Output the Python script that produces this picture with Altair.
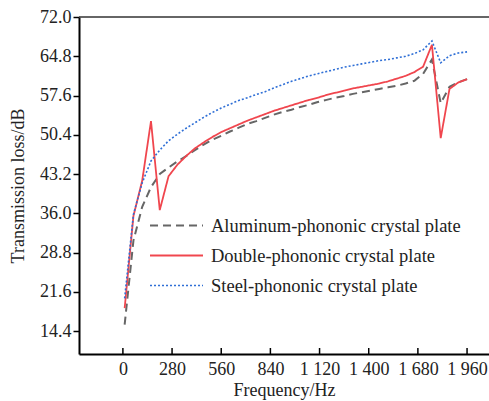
import altair as alt
import pandas as pd

freq = [10, 60, 110, 160, 210, 260, 310, 360, 410, 460, 510, 560, 610, 660, 710, 760,
        810, 860, 910, 960, 1010, 1060, 1110, 1160, 1210, 1260, 1310, 1360, 1410, 1460,
        1510, 1560, 1610, 1660, 1710, 1760, 1810, 1860, 1910, 1960]

aluminum = [15.6, 31.0, 37.2, 40.8, 43.2, 44.4, 45.5, 46.5, 47.6, 48.6, 49.5, 50.2, 51.0,
            51.7, 52.4, 52.9, 53.5, 54.1, 54.6, 55.0, 55.5, 55.9, 56.4, 56.8, 57.2, 57.5,
            57.9, 58.2, 58.5, 58.8, 59.1, 59.4, 59.8, 60.3, 61.6, 64.2, 56.2, 59.2, 60.0, 60.6]

double = [18.6, 35.5, 42.0, 52.9, 36.6, 42.8, 44.9, 46.5, 47.9, 49.0, 50.0, 50.9, 51.6,
          52.3, 53.0, 53.6, 54.2, 54.8, 55.3, 55.8, 56.3, 56.8, 57.2, 57.7, 58.1, 58.5,
          58.9, 59.2, 59.5, 59.8, 60.2, 60.7, 61.2, 61.9, 62.9, 66.9, 49.8, 58.8, 60.0, 60.6]

steel = [20.4, 35.8, 41.6, 45.6, 47.6, 49.3, 50.5, 51.6, 52.6, 53.6, 54.5, 55.3, 56.0,
         56.7, 57.2, 57.8, 58.3, 59.0, 59.6, 60.2, 60.7, 61.2, 61.6, 62.0, 62.4, 62.8,
         63.1, 63.4, 63.7, 64.0, 64.2, 64.5, 64.8, 65.3, 66.0, 67.6, 63.6, 64.9, 65.4, 65.6]

series_names = ["Aluminum-phononic crystal plate",
                "Double-phononic crystal plate",
                "Steel-phononic crystal plate"]

x_ticks = [0, 280, 560, 840, 1120, 1400, 1680, 1960]
y_ticks = [14.4, 21.6, 28.8, 36.0, 43.2, 50.4, 57.6, 64.8, 72.0]

colors = ["#666666", "#f0464e", "#2f6fd6"]
dashes = [[8, 5], [1, 0], [2, 2]]
widths = [2.0, 1.6, 2.0]

rows = []
for name, vals in zip(series_names, [aluminum, double, steel]):
    for f, v in zip(freq, vals):
        rows.append({"Frequency": f, "TL": v, "Series": name})
df = pd.DataFrame(rows)

W, H = 410, 337
FONT = "Liberation Serif"

x_scale = alt.Scale(domain=[-250, 2085], nice=False, zero=False)
y_scale = alt.Scale(domain=[10.2, 72], nice=False, zero=False)

x_axis = alt.Axis(values=x_ticks, ticks=False, grid=False, title="Frequency/Hz",
                  labelPadding=6, titlePadding=3,
                  labelExpr="replace(format(datum.value, ','), ',', ' ')")

legend = alt.Legend(
    title=None, orient="none", legendX=83, legendY=194,
    symbolType="M-2,0H2", symbolSize=702, symbolStrokeWidth=2,
    labelFont=FONT, labelFontSize=18.5, labelColor="#222222", labelLimit=400,
    labelOffset=20, rowPadding=6, padding=0,
)

lines = alt.Chart(df).mark_line().encode(
    x=alt.X("Frequency:Q", scale=x_scale, axis=x_axis),
    y=alt.Y("TL:Q", scale=y_scale,
            axis=alt.Axis(values=y_ticks, format=".1f", grid=False,
                          title="Transmission loss/dB", tickSize=6, labelPadding=2,
                          titlePadding=12)),
    color=alt.Color("Series:N", scale=alt.Scale(domain=series_names, range=colors), legend=legend),
    strokeDash=alt.StrokeDash("Series:N", scale=alt.Scale(domain=series_names, range=dashes), legend=legend),
    strokeWidth=alt.StrokeWidth("Series:N", scale=alt.Scale(domain=series_names, range=widths), legend=None),
    order="Frequency:Q",
)

tick_df = pd.DataFrame({"Frequency": x_ticks})
xticks = alt.Chart(tick_df).mark_rule(color="black", strokeWidth=1.5).encode(
    x=alt.X("Frequency:Q", scale=x_scale, axis=x_axis),
    y=alt.value(H), y2=alt.value(H - 6),
)

top_line = alt.Chart(pd.DataFrame({"a": [0]})).mark_rule(color="#333333", strokeWidth=1.5).encode(
    x=alt.value(0), x2=alt.value(W), y=alt.value(0)
)

chart = alt.layer(lines, xticks, top_line).properties(
    width=W, height=H,
    autosize=alt.AutoSizeParams(type="none"),
    padding={"left": 79, "top": 17, "right": 0, "bottom": 47},
    background="white",
).configure_view(stroke=None).configure_axis(
    labelFont=FONT, titleFont=FONT, labelFontSize=18, titleFontSize=18,
    labelColor="#222222", titleColor="#222222", titleFontWeight="normal",
    domainColor="black", domainWidth=2, tickColor="black", tickWidth=1.5,
)

chart.save("out.html", embed_options={"renderer": "svg", "actions": False})
